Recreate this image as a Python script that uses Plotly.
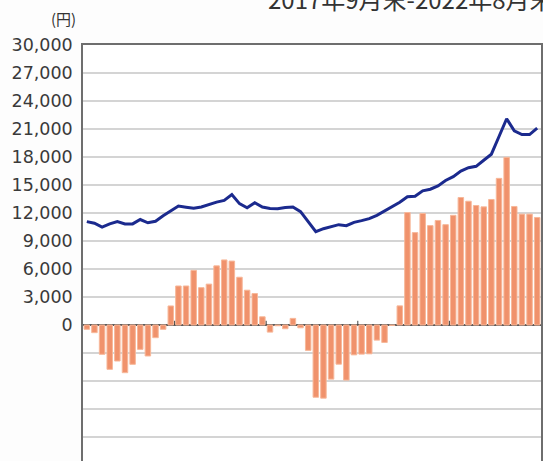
import plotly.graph_objects as go

months = list(range(1, 61))
year_ticks = [12.5, 24.5, 36.5, 48.5]

bar_values = [
    -460, -820, -3140, -4750, -3860, -5110, -4210, -2610, -3320, -1360,
    -460, 2040, 4180, 4180, 5850, 4000, 4380, 6340, 6970, 6850,
    5120, 3730, 3370, 880, -760, -80, -400, 710, -300, -2720,
    -7740, -7840, -5800, -4200, -5900, -3200, -3120, -3090, -1620, -1870,
    -40, 2050, 12050, 9900, 11950, 10650, 11200, 10750, 11750, 13660,
    13260, 12800, 12660, 13450, 15710, 17960, 12700, 11880, 11880, 11520,
]

line_values = [
    11080, 10900, 10480, 10830, 11080, 10830, 10830, 11300, 10950, 11120,
    11700, 12200, 12750, 12620, 12500, 12640, 12920, 13170, 13350, 13980,
    13000, 12560, 13100, 12640, 12480, 12450, 12600, 12650, 12150, 11070,
    10000, 10320, 10500, 10750, 10640, 11000, 11180, 11400, 11750, 12200,
    12700, 13150, 13750, 13800, 14380, 14550, 14900, 15480, 15900, 16500,
    16850, 17000, 17650, 18300, 20200, 22100, 20800, 20400, 20400, 21100,
]

grid_vals = list(range(-15000, 30001, 3000))
grid_text = [f"{v:,}" if v >= 0 else "" for v in grid_vals]

title_text = "2017年9月末-2022年8月末"
unit_text = "(円)"

FONT = "Noto Sans CJK JP"
NUMFONT = "DejaVu Sans"

fig = go.Figure()
fig.add_trace(go.Bar(
    x=months, y=bar_values,
    marker=dict(color="#F0926C", line=dict(color="#F7B89A", width=1)),
    hoverinfo="skip",
))
fig.add_trace(go.Scatter(
    x=months, y=line_values, mode="lines",
    line=dict(color="#1B2A8E", width=3),
    hoverinfo="skip",
))

for t in year_ticks:
    fig.add_shape(type="line", x0=t, x1=t, y0=0, y1=450, xref="x", yref="y",
                  line=dict(color="#444444", width=1))

fig.update_layout(
    width=543, height=461,
    margin=dict(l=83, r=2, t=45, b=0),
    paper_bgcolor="#FDFDFD", plot_bgcolor="#FFFFFF",
    showlegend=False,
    bargap=0.28,
    font=dict(family=FONT, color="#333333"),
    xaxis=dict(range=[0.5, 60.5], showticklabels=False, showgrid=False,
               zeroline=False, ticks="", showline=True, side="top",
               linecolor="#6E6E6E", linewidth=1.5),
    yaxis=dict(range=[-14571, 30000], tickvals=grid_vals, ticktext=grid_text,
               showgrid=True, gridcolor="#D4D4D4", gridwidth=1.5,
               zeroline=True, zerolinecolor="#5A5A5A", zerolinewidth=1.5,
               showline=True, mirror=True, linecolor="#6E6E6E", linewidth=1.5,
               ticks="", ticklen=0, ticklabelstandoff=5,
               tickfont=dict(size=17.5, family=NUMFONT, color="#3A3A3A")),
    annotations=[
        dict(text=unit_text, xref="paper", yref="paper", x=-0.01, y=1.0,
             yshift=27, xanchor="right", yanchor="middle", showarrow=False,
             font=dict(size=15, family=FONT, color="#333333")),
        dict(text=title_text, xref="paper", yref="paper", x=0.40, y=1.0,
             yshift=47, xanchor="left", yanchor="middle", showarrow=False,
             font=dict(size=24, family=FONT, color="#333333")),
    ],
)

fig.write_html("out.html",
               config={"displayModeBar": False},
               post_script="document.body.style.margin='0';document.body.style.overflow='hidden';")
